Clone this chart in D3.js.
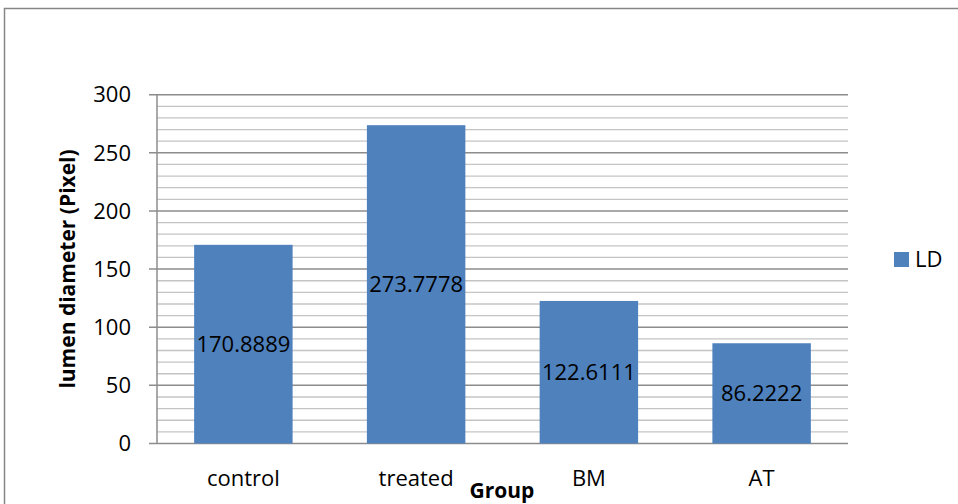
<!DOCTYPE html>
<html><head><meta charset="utf-8">
<script src="https://cdn.jsdelivr.net/npm/d3@7"></script>
<style>body{margin:0;background:#fff;} svg{display:block;}</style>
</head><body>
<svg id="c" width="958" height="504"></svg>
<script>
const categories = ["control", "treated", "BM", "AT"];
const values = [170.8889, 273.7778, 122.6111, 86.2222];
const labels = ["170.8889", "273.7778", "122.6111", "86.2222"];
const yTicks = [0, 50, 100, 150, 200, 250, 300];
const seriesName = "LD";

(function () {
const svg = d3.select("#c");
const W = 958, H = 504;
const font = "'Open Sans', Lato, sans-serif";
const pL = 157, pR = 848, pT = 94.7, pB = 443.5;

svg.append("rect").attr("x", 4.5).attr("y", 8.5).attr("width", W + 10).attr("height", H + 10)
  .attr("fill", "#fff").attr("stroke", "#868686").attr("stroke-width", 1.5);

const x = d3.scaleBand().domain(categories).range([pL, pR]).paddingInner(0.43).paddingOuter(0.215);
const y = d3.scaleLinear().domain([0, 300]).range([pB, pT]);

const minor = d3.range(0, 301, 10).filter(v => v % 50 !== 0);
svg.append("g").selectAll("line").data(minor).join("line")
  .attr("x1", pL).attr("x2", pR).attr("y1", d => y(d)).attr("y2", d => y(d))
  .attr("stroke", "#c4c4c4").attr("stroke-width", 1.3);
svg.append("g").selectAll("line").data(yTicks).join("line")
  .attr("x1", pL - 8).attr("x2", pR).attr("y1", d => y(d)).attr("y2", d => y(d))
  .attr("stroke", "#8c8c8c").attr("stroke-width", 1.5);

svg.append("g").selectAll("rect").data(values).join("rect")
  .attr("x", (d, i) => x(categories[i])).attr("width", x.bandwidth())
  .attr("y", d => y(d)).attr("height", d => y(0) - y(d))
  .attr("fill", "#4f81bd");

svg.append("line").attr("x1", pL).attr("x2", pL).attr("y1", pT).attr("y2", pB)
  .attr("stroke", "#8c8c8c").attr("stroke-width", 1.5);

svg.append("g").selectAll("text").data(yTicks).join("text")
  .attr("x", 131).attr("y", d => y(d)).attr("dy", "0.35em").attr("text-anchor", "end")
  .attr("font-family", font).attr("font-size", 22).attr("fill", "#000").text(d => d);

svg.append("g").selectAll("text").data(values).join("text")
  .attr("x", (d, i) => x(categories[i]) + x.bandwidth() / 2)
  .attr("y", d => (y(d) + y(0)) / 2).attr("dy", "0.35em").attr("text-anchor", "middle")
  .attr("font-family", font).attr("font-size", 22).attr("fill", "#000").text((d, i) => labels[i]);

svg.append("g").selectAll("text").data(categories).join("text")
  .attr("x", d => x(d) + x.bandwidth() / 2).attr("y", 486).attr("text-anchor", "middle")
  .attr("font-family", font).attr("font-size", 22).attr("fill", "#000").text(d => d);

svg.append("text").attr("x", 502).attr("y", 498).attr("text-anchor", "middle")
  .attr("font-family", font).attr("font-weight", "bold").attr("font-size", 21).text("Group");
svg.append("text").attr("transform", "translate(75,269) rotate(-90)").attr("text-anchor", "middle")
  .attr("font-family", font).attr("font-weight", "bold").attr("font-size", 21).text("lumen diameter (Pixel)");

svg.append("rect").attr("x", 894).attr("y", 252).attr("width", 15).attr("height", 15).attr("fill", "#4f81bd");
svg.append("text").attr("x", 915).attr("y", 259.5).attr("dy", "0.35em")
  .attr("font-family", font).attr("font-size", 22).text(seriesName);
})();
</script>
</body></html>
